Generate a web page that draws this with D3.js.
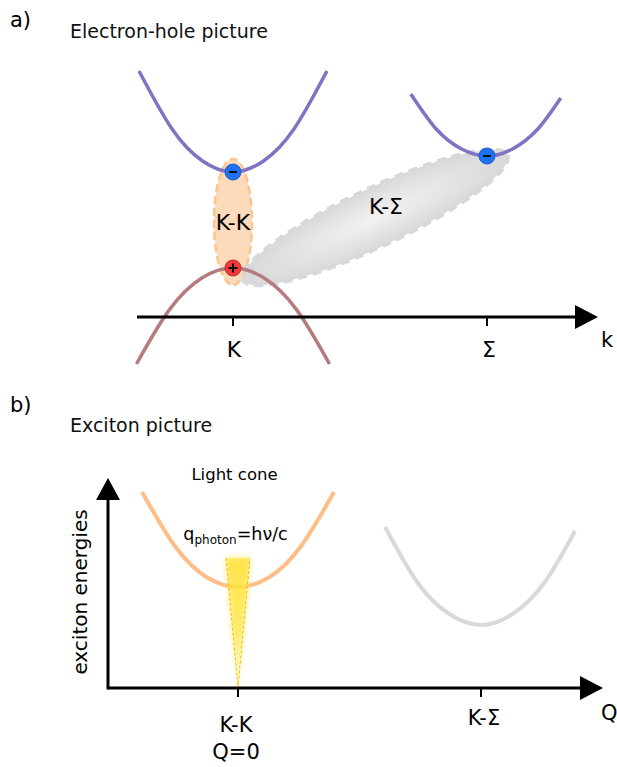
<!DOCTYPE html>
<html>
<head>
<meta charset="utf-8">
<script src="https://cdn.jsdelivr.net/npm/d3@7"></script>
<style>
  html, body { margin: 0; padding: 0; background: #fff; }
  svg { display: block; font-family: "DejaVu Sans", sans-serif; }
</style>
</head>
<body>
<div id="chart"></div>
<script>
// ---- data ----
// panel a: bands, k in units of K->Sigma distance, E arbitrary
const condK = [[-0.37, 2.46], [-0.24, 1.88], [-0.12, 1.56], [0, 1.45], [0.12, 1.56], [0.24, 1.88], [0.37, 2.46]];
const condS = [[0.70, 2.23], [0.80, 1.88], [0.90, 1.68], [1.00, 1.61], [1.10, 1.68], [1.20, 1.88], [1.29, 2.19]];
const valK  = [[-0.38, -0.47], [-0.25, 0.074], [-0.12, 0.394], [0, 0.49], [0.12, 0.394], [0.25, 0.074], [0.38, -0.47]];
const electrons = [[0, 1.45], [1, 1.61]];
const holes = [[0, 0.49]];
const kTicks = [0, 1];
const kTickLabels = ["K", "Σ"];
// exciton clouds: K-K (vertical), K-Σ (tip to tip)
const kkCloud = { k: 0, E: 0.95, dk: 0.075, dE: 0.63 };
const ksCloudTips = [[0.04, 0.37], [1.08, 1.62]];

// panel b: exciton dispersions, Q in units of K->Sigma momentum
const excKK = [[-0.395, 1.96], [-0.26, 1.42], [-0.13, 1.11], [0, 1.01], [0.13, 1.11], [0.26, 1.42], [0.395, 1.96]];
const excKS = [[-0.395, 1.61], [-0.26, 1.05], [-0.13, 0.74], [0, 0.63], [0.13, 0.74], [0.26, 1.05], [0.387, 1.57]];
const excKSOffset = 1;
const qTicks = [0, 1];
const qTickLabels = [["K-K", "Q=0"], ["K-Σ"]];
const lightCone = { q: 0.049, E: 1.30 };

const W = 617, H = 767;
const svg = d3.select("#chart").append("svg").attr("width", W).attr("height", H);
const defs = svg.append("defs");

const xA = d3.scaleLinear().domain([0, 1]).range([233, 487]);
const yA = d3.scaleLinear().domain([0, 1]).range([317, 217]);
const xB = d3.scaleLinear().domain([0, 1]).range([238, 481]);
const yB = d3.scaleLinear().domain([0, 1]).range([688, 588]);

// gradients / filters
const g1 = defs.append("radialGradient").attr("id", "greyCloud");
g1.append("stop").attr("offset", "0%").attr("stop-color", "#f0f0f0");
g1.append("stop").attr("offset", "100%").attr("stop-color", "#d2d2d2");

const g2 = defs.append("linearGradient").attr("id", "coneGrad")
  .attr("x1", 0).attr("y1", 0).attr("x2", 0).attr("y2", 1);
g2.append("stop").attr("offset", "0%").attr("stop-color", "#ffe033").attr("stop-opacity", 0.95);
g2.append("stop").attr("offset", "60%").attr("stop-color", "#ffe84d").attr("stop-opacity", 0.85);
g2.append("stop").attr("offset", "100%").attr("stop-color", "#fff3a0").attr("stop-opacity", 0.6);

defs.append("filter").attr("id", "glow").attr("x", "-100%").attr("width", "300%")
  .append("feGaussianBlur").attr("stdDeviation", 3);

function arrowAxis(g, x1, y1, x2, y2, tipX, tipY, half) {
  g.append("line").attr("x1", x1).attr("y1", y1).attr("x2", x2).attr("y2", y2)
    .attr("stroke", "#000").attr("stroke-width", 3);
  let pts;
  if (y1 === y2) pts = [[x2, y2 - half], [tipX, tipY], [x2, y2 + half]];
  else pts = [[x2 - half, y2], [tipX, tipY], [x2 + half, y2]];
  g.append("path").attr("d", d3.line()(pts) + "Z").attr("fill", "#000");
}

// ================= panel a =================
const pa = svg.append("g");
const lineA = d3.line().x(d => xA(d[0])).y(d => yA(d[1])).curve(d3.curveNatural);

// K-K cloud
pa.append("ellipse")
  .attr("cx", xA(kkCloud.k)).attr("cy", yA(kkCloud.E))
  .attr("rx", xA(kkCloud.dk) - xA(0)).attr("ry", yA(0) - yA(kkCloud.dE))
  .attr("fill", "#fddab9").attr("stroke", "#fcc48f").attr("stroke-width", 2.5)
  .attr("stroke-dasharray", "8,4");

// K-Σ cloud
const t0 = [xA(ksCloudTips[0][0]), yA(ksCloudTips[0][1])];
const t1 = [xA(ksCloudTips[1][0]), yA(ksCloudTips[1][1])];
const ang = Math.atan2(t1[1] - t0[1], t1[0] - t0[0]) * 180 / Math.PI;
const len = Math.hypot(t1[0] - t0[0], t1[1] - t0[1]) / 2;
pa.append("g")
  .attr("transform", `translate(${(t0[0] + t1[0]) / 2},${(t0[1] + t1[1]) / 2}) rotate(${ang})`)
  .append("ellipse").attr("rx", len).attr("ry", 29)
  .attr("fill", "url(#greyCloud)").attr("fill-opacity", 0.85)
  .attr("stroke", "#d8d8d8").attr("stroke-width", 4).attr("stroke-dasharray", "9,6");

pa.append("path").attr("d", lineA(condK)).attr("fill", "none").attr("stroke", "#7f73c3").attr("stroke-width", 3.5);
pa.append("path").attr("d", lineA(condS)).attr("fill", "none").attr("stroke", "#7f73c3").attr("stroke-width", 3.5);
pa.append("path").attr("d", lineA(valK)).attr("fill", "none").attr("stroke", "#b57b7e").attr("stroke-width", 3.5);

pa.append("text").attr("x", xA(kkCloud.k)).attr("y", yA(kkCloud.E) + 8)
  .attr("text-anchor", "middle").attr("font-size", 22).text("K-K");
pa.append("text").attr("x", 386).attr("y", 214)
  .attr("text-anchor", "middle").attr("font-size", 22).text("K-Σ");

// carriers
const el = pa.selectAll(".el").data(electrons).join("g")
  .attr("transform", d => `translate(${xA(d[0])},${yA(d[1])})`);
el.append("circle").attr("r", 8).attr("fill", "#1f72f2").attr("stroke", "#1a5fd0").attr("stroke-width", 1);
el.append("line").attr("x1", -4).attr("x2", 4).attr("stroke", "#111").attr("stroke-width", 2);

const ho = pa.selectAll(".ho").data(holes).join("g")
  .attr("transform", d => `translate(${xA(d[0])},${yA(d[1])})`);
ho.append("circle").attr("r", 8).attr("fill", "#f03a3a").attr("stroke", "#c82828").attr("stroke-width", 1);
ho.append("line").attr("x1", -4.5).attr("x2", 4.5).attr("stroke", "#111").attr("stroke-width", 2);
ho.append("line").attr("y1", -4.5).attr("y2", 4.5).attr("stroke", "#111").attr("stroke-width", 2);

// k axis
arrowAxis(pa, 137, yA(0), 575, yA(0), 598, yA(0), 12);
pa.selectAll(".kt").data(kTicks).join("line")
  .attr("x1", d => xA(d)).attr("x2", d => xA(d))
  .attr("y1", yA(0)).attr("y2", yA(0) + 9).attr("stroke", "#000").attr("stroke-width", 2);
pa.selectAll(".kl").data(kTicks).join("text")
  .attr("x", d => xA(d) + (d ? 2 : 1)).attr("y", 357)
  .attr("text-anchor", "middle").attr("font-size", 22)
  .text((d, i) => kTickLabels[i]);
pa.append("text").attr("x", 601).attr("y", 347).attr("font-size", 21).text("k");

svg.append("text").attr("x", 10).attr("y", 27).attr("font-size", 21).text("a)");
svg.append("text").attr("x", 70).attr("y", 38).attr("font-size", 19).attr("fill", "#111").text("Electron-hole picture");

// ================= panel b =================
const pb = svg.append("g");
const lineB = off => d3.line().x(d => xB(d[0] + off)).y(d => yB(d[1])).curve(d3.curveNatural);

pb.append("path").attr("d", lineB(0)(excKK)).attr("fill", "none").attr("stroke", "#fdbe88").attr("stroke-width", 4);
pb.append("path").attr("d", lineB(excKSOffset)(excKS)).attr("fill", "none").attr("stroke", "#d9d9d9").attr("stroke-width", 4);

// light cone
const conePts = [[-lightCone.q, lightCone.E], [0, 0], [lightCone.q, lightCone.E]];
const coneLine = d3.line().x(d => xB(d[0])).y(d => yB(d[1]));
pb.append("path").attr("d", coneLine(conePts) + "Z")
  .attr("fill", "url(#coneGrad)").attr("filter", "url(#glow)").attr("opacity", 0.85);
pb.append("path").attr("d", coneLine(conePts) + "Z")
  .attr("fill", "url(#coneGrad)").attr("opacity", 0.5);
pb.append("path").attr("d", coneLine(conePts))
  .attr("fill", "none").attr("stroke", "#f0c000").attr("stroke-width", 1)
  .attr("stroke-dasharray", "3,2");

// axes
arrowAxis(pb, xB(-0.535), yB(0), 580, yB(0), 603, yB(0), 12);
arrowAxis(pb, xB(-0.535), yB(0) + 1.5, xB(-0.535), 500, xB(-0.535), 478, 12);

pb.selectAll(".qt").data(qTicks).join("line")
  .attr("x1", d => xB(d)).attr("x2", d => xB(d))
  .attr("y1", yB(0)).attr("y2", yB(0) + 9).attr("stroke", "#000").attr("stroke-width", 2);
const ql = pb.selectAll(".ql").data(qTicks).join("text")
  .attr("text-anchor", "middle").attr("font-size", 21)
  .attr("x", d => xB(d) + (d ? 3 : -2)).attr("y", (d, i) => qTickLabels[i].length > 1 ? 732 : 725);
ql.selectAll("tspan").data((d, i) => qTickLabels[i]).join("tspan")
  .attr("x", function () { return this.parentNode.getAttribute("x"); })
  .attr("dy", (d, i) => i ? 27 : 0).text(d => d);
pb.append("text").attr("x", 601).attr("y", 720).attr("font-size", 21).text("Q");

pb.append("text").attr("transform", "translate(87,592) rotate(-90)")
  .attr("text-anchor", "middle").attr("font-size", 20).text("exciton energies");

pb.append("text").attr("x", 234.5).attr("y", 480).attr("text-anchor", "middle").attr("font-size", 16.5).text("Light cone");
const qt = pb.append("text").attr("x", 235.5).attr("y", 540).attr("text-anchor", "middle").attr("font-size", 17.5);
qt.append("tspan").text("q");
qt.append("tspan").attr("font-size", 12).attr("dy", 4).text("photon");
qt.append("tspan").attr("dy", -4).text("=hν/c");

svg.append("text").attr("x", 10).attr("y", 412).attr("font-size", 21).text("b)");
svg.append("text").attr("x", 70).attr("y", 432).attr("font-size", 19).attr("fill", "#111").text("Exciton picture");
</script>
</body>
</html>
